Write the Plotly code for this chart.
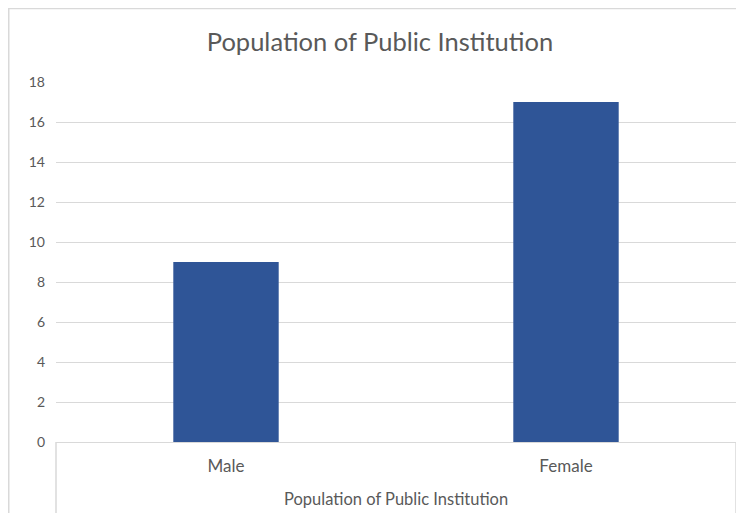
import plotly.graph_objects as go

group_label = "Population of Public Institution"
categories = ["Male", "Female"]
values = [9, 17]
title_text = "Population of Public Institution"

fig = go.Figure()
fig.add_trace(go.Bar(
    x=categories,
    y=values,
    marker=dict(color="#2F5597", line=dict(width=0)),
))

txt = "#595959"
font = "Lato"
line_col = "#D9D9D9"
fig.update_layout(
    width=744, height=513,
    margin=dict(l=48, r=16, t=74, b=79, autoexpand=False),
    paper_bgcolor="white", plot_bgcolor="white",
    bargap=0.69,
    showlegend=False,
    title=dict(text=title_text, x=0.5, xanchor="center", y=0.934, yanchor="middle",
               font=dict(family=font, size=25.5, color=txt)),
    font=dict(family=font, color=txt),
    xaxis=dict(
        type="category", automargin=False,
        showgrid=False, zeroline=False,
        showline=False, ticks="",
        tickfont=dict(family=font, size=17, color=txt),
        ticklabelstandoff=12,
    ),
    yaxis=dict(
        range=[0, 18], dtick=2, automargin=False,
        showgrid=True, gridcolor=line_col, gridwidth=1,
        zeroline=True, zerolinecolor=line_col, zerolinewidth=1,
        showline=False, ticks="",
        tickfont=dict(family=font, size=14, color=txt),
        ticklabelstandoff=10,
    ),
    annotations=[dict(text=group_label, xref="paper", yref="paper",
                      x=0.5, y=-0.158, xanchor="center", yanchor="middle",
                      showarrow=False, font=dict(family=font, size=16.5, color=txt))],
    shapes=[
        dict(type="rect", xref="paper", yref="paper",
             x0=-0.0695, x1=1.05, y0=-0.4, y1=1.204,
             line=dict(color=line_col, width=1.5), layer="below"),
        dict(type="line", xref="paper", yref="paper", x0=0, x1=0, y0=0, y1=-0.3,
             line=dict(color=line_col, width=1.5)),
        dict(type="line", xref="paper", yref="paper", x0=1, x1=1, y0=0, y1=-0.3,
             line=dict(color=line_col, width=1.5)),
    ],
)

fig.write_html("out.html")
